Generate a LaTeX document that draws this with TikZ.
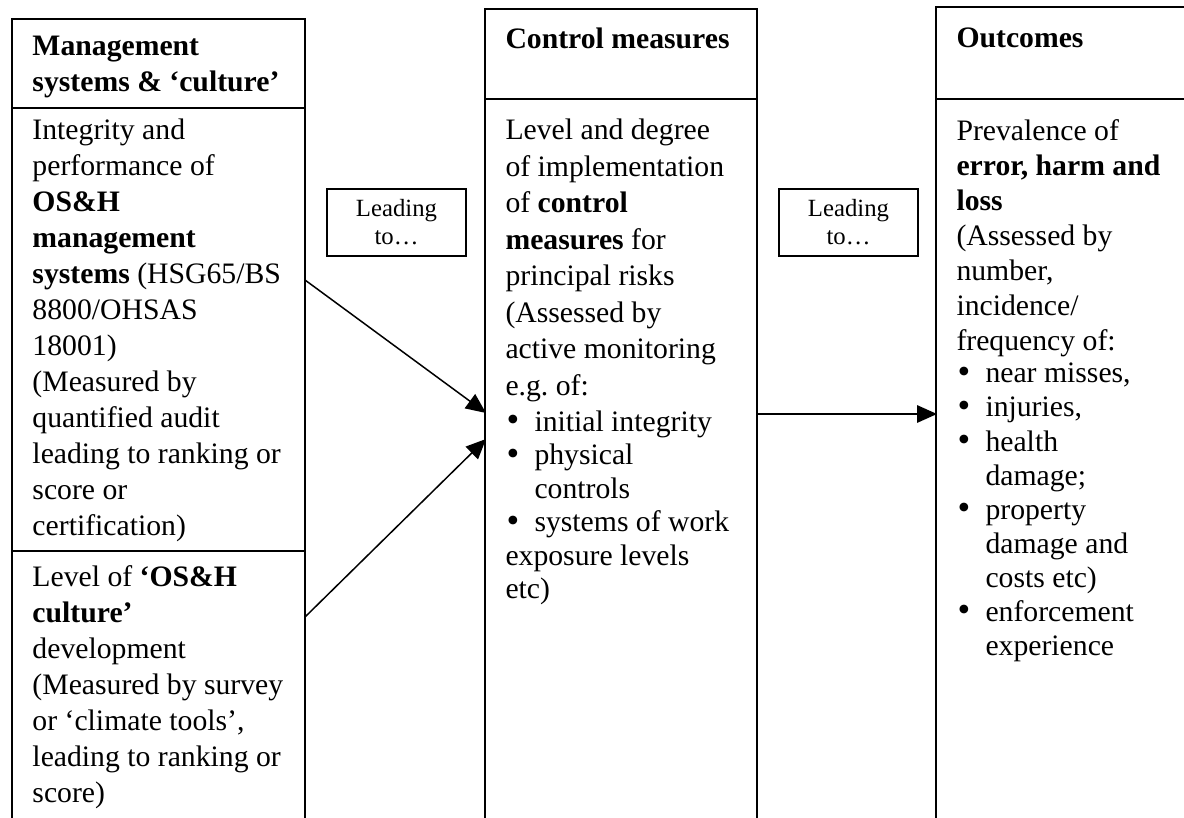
\documentclass[tikz,border=0pt]{standalone}
\usepackage{fontspec}
\setmainfont{Liberation Serif}
\usetikzlibrary{arrows.meta}
\frenchspacing
\newdimen\upx \upx=0.4pt
\newcommand\bul{\makebox[29\upx][l]{\hspace{1\upx}\raisebox{-0.3pt}{\fontsize{14.5}{14.5}\selectfont\textbullet}}}
\newcommand\nob{\hspace*{29\upx}}
\newcommand\lines[2]{{\fontsize{11.88}{#1\upx}\selectfont\begin{tabular}[t]{@{}l@{}}#2\end{tabular}}}
\tikzset{
  colline/.style={line width=0.8pt},
  txt/.style={anchor=base west, inner sep=0pt, font=\fontsize{11.88}{14}\selectfont},
  lead/.style={draw, line width=0.6pt, minimum width=139*0.4pt, minimum height=67*0.4pt,
    align=center, inner sep=0pt, font=\fontsize{9.9}{11.2}\selectfont},
  arr/.style={-{Triangle[length=8pt,width=7pt]}, line width=0.6pt}
}
\begin{document}
\begin{tikzpicture}[x=0.4pt,y=-0.4pt]
\useasboundingbox (0,0) rectangle (1184,818);
\begin{scope}
\clip (0,0) rectangle (1184,818);
\draw[colline] (12,818) -- (12,19) -- (305,19) -- (305,818);
\draw[colline] (12,108) -- (305,108);
\draw[colline] (12,551) -- (305,551);
\draw[colline] (485,818) -- (485,9) -- (757,9) -- (757,818);
\draw[colline] (485,99) -- (757,99);
\draw[colline] (936,818) -- (936,7) -- (1200,7);
\draw[colline] (936,99) -- (1200,99);
\end{scope}

% left column
\node[txt] (lhead) at (32,56) {\lines{36}{\textbf{Management}\\\textbf{systems \& ‘culture’}}};
\node[txt] (lbody1) at (32,140) {\lines{36}{Integrity and\\performance of\\\textbf{OS\&H}\\\textbf{management}\\\textbf{systems} (HSG65/BS\\8800/OHSAS\\18001)\\(Measured by\\quantified audit\\leading to ranking or\\score or\\certification)}};
\node[txt] (lbody2) at (32,586) {\lines{36}{Level of \textbf{‘OS\&H}\\\textbf{culture’}\\development\\(Measured by survey\\or ‘climate tools’,\\leading to ranking or\\score)}};

% middle column
\node[txt] (mhead) at (505,49) {\textbf{Control measures}};
\node[txt] (mbody) at (505,140) {\lines{36.5}{Level and degree\\of implementation\\of \textbf{control}\\\textbf{measures} for\\principal risks\\(Assessed by\\active monitoring\\e.g. of:}};
\node[txt] (mlist) at (505,431) {\lines{33.5}{\bul initial integrity\\\bul physical\\\nob controls\\\bul systems of work\\exposure levels\\etc)}};

% right column
\node[txt] (rhead) at (956,48) {\textbf{Outcomes}};
\node[txt] (rbody) at (956,141) {\lines{35}{Prevalence of\\\textbf{error, harm and}\\\textbf{loss}\\(Assessed by\\number,\\incidence/\\frequency of:}};
\node[txt] (rlist) at (956,383) {\lines{34}{\bul near misses,\\\bul injuries,\\\bul health\\\nob damage;\\\bul property\\\nob damage and\\\nob costs etc)\\\bul enforcement\\\nob experience}};

% leading boxes
\node[lead] (lead1) at (396.5,222.5) {Leading\\to…};
\node[lead] (lead2) at (848.5,222.5) {Leading\\to…};

% arrows
\coordinate (a1s) at (305,280);
\coordinate (a1e) at (486,413);
\coordinate (a2s) at (305,617);
\coordinate (a2e) at (486,439);
\coordinate (a3s) at (757,414);
\coordinate (a3e) at (937,414);
\draw[arr] (a1s) -- (a1e);
\draw[arr] (a2s) -- (a2e);
\draw[arr] (a3s) -- (a3e);
\end{tikzpicture}
\end{document}
